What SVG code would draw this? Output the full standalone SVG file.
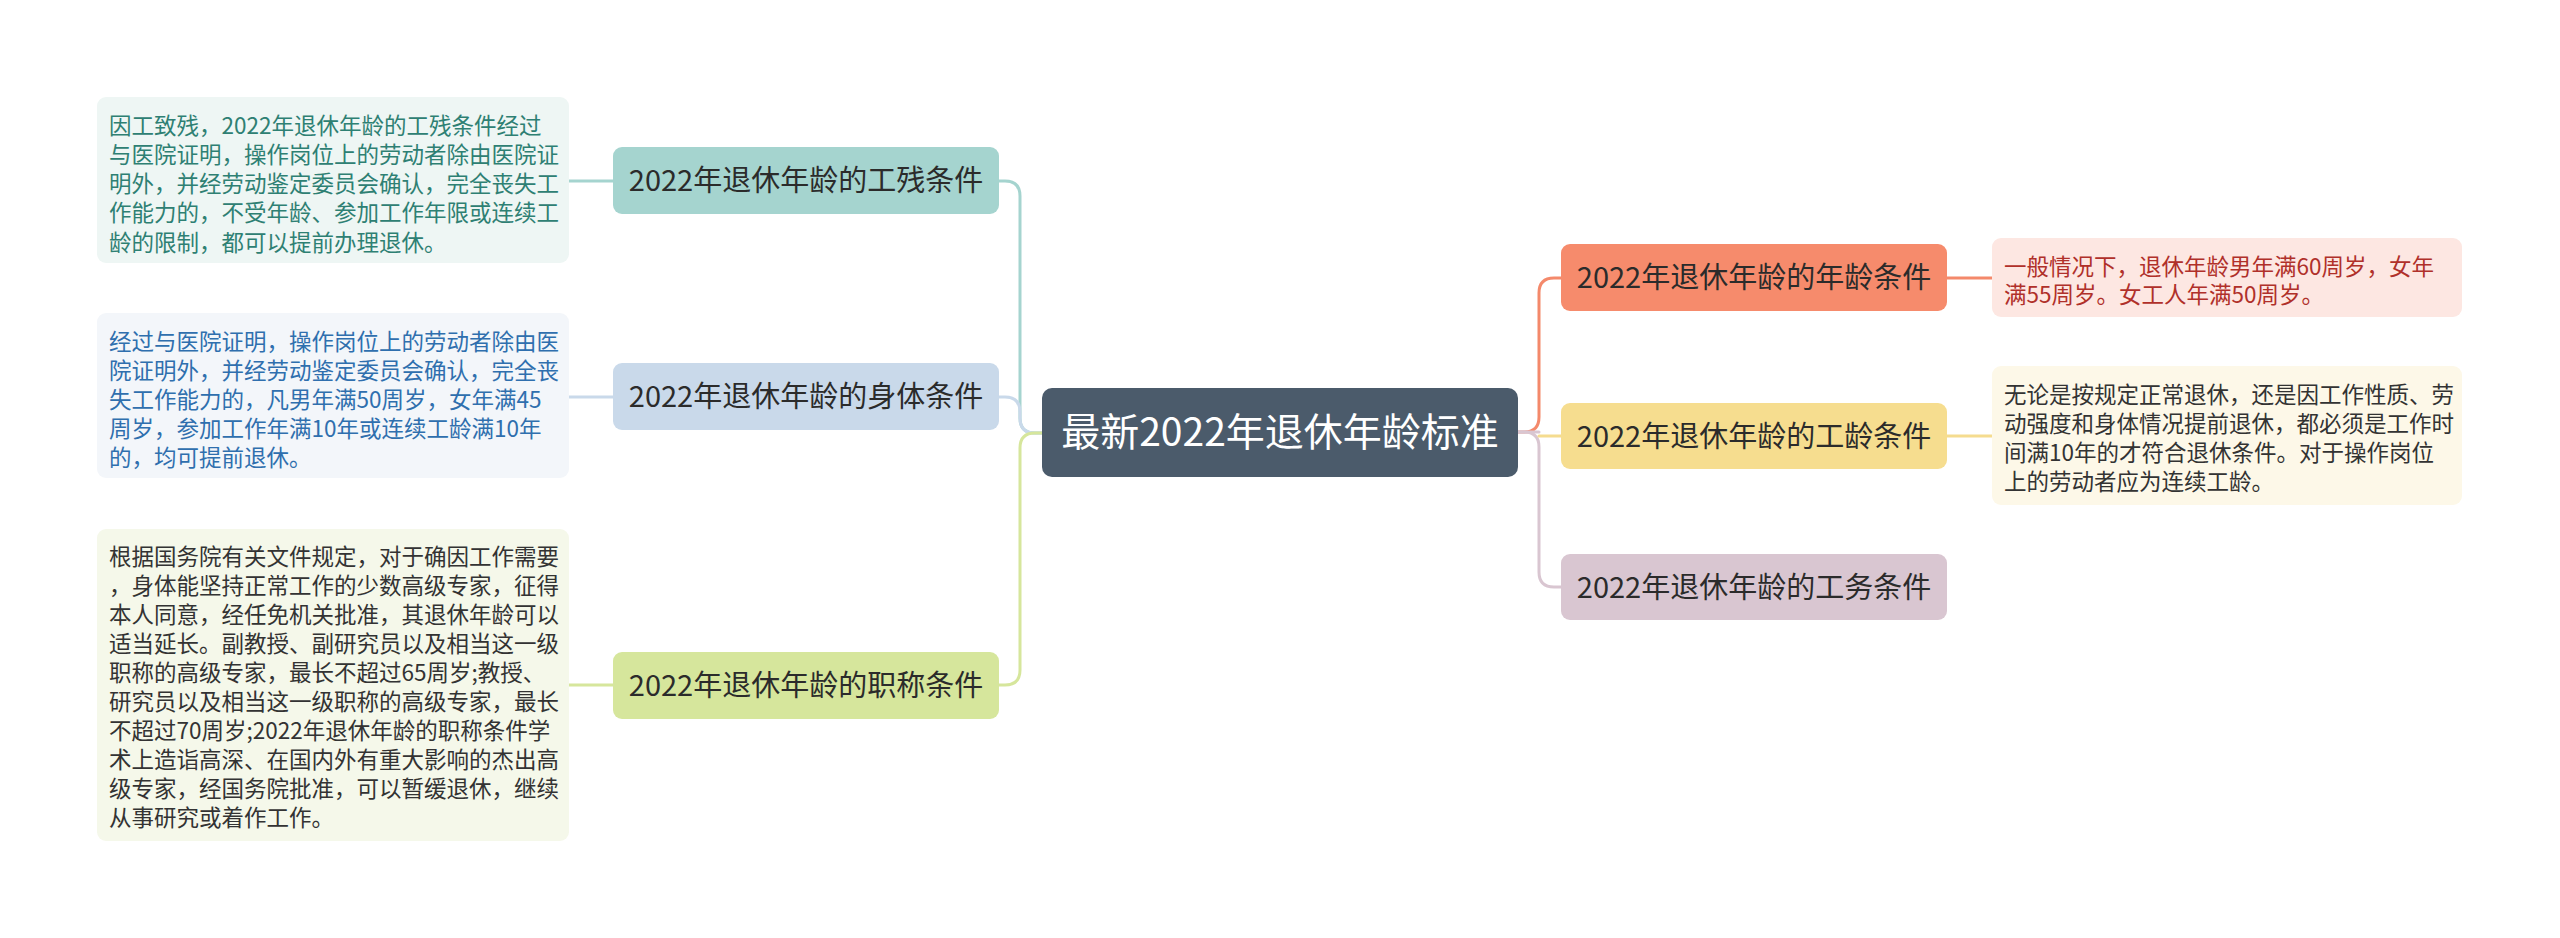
<svg xmlns="http://www.w3.org/2000/svg" width="2560" height="938" viewBox="0 0 2560 938">
<style>
text{font-family:"Noto Sans CJK SC","Noto Sans",sans-serif;}
.node{font-size:29px;fill:#2b2b2b;text-anchor:middle;}
.root{font-size:39px;fill:#ffffff;text-anchor:middle;}
.leaf{font-size:22.5px;}
.c{fill:none;stroke-width:3;stroke-linecap:round;}
</style>
<rect width="2560" height="938" fill="#ffffff"/>
<g id="connectors">
  <path class="c" stroke="#a5d4cf" d="M1042,433 H1035 Q1020,433 1020,418 V196 Q1020,181 1005,181 H999"/>
  <path class="c" stroke="#c9d9ea" d="M1042,433 H1035 Q1020,433 1020,418 V412 Q1020,397 1005,397 H999"/>
  <path class="c" stroke="#d6e69c" d="M1042,433 H1035 Q1020,433 1020,448 V670 Q1020,685 1005,685 H999"/>
  <path class="c" stroke="#f4896b" d="M1518,432 H1524 Q1539,432 1539,417 V293 Q1539,278 1554,278 H1561"/>
  <path class="c" stroke="#d9c6d1" d="M1518,432 H1524 Q1539,432 1539,447 V572 Q1539,587 1554,587 H1561"/>
  <path class="c" stroke="#d9c6d1" d="M1518,432 H1539"/>
  <path class="c" stroke="#f5dc8f" d="M1539,436 H1561"/>
  <path class="c" stroke="#a5d4cf" d="M569,181 H613"/>
  <path class="c" stroke="#c9d9ea" d="M569,397 H613"/>
  <path class="c" stroke="#d6e69c" d="M569,685 H613"/>
  <path class="c" stroke="#f4896b" d="M1947,278 H1992"/>
  <path class="c" stroke="#f5dc8f" d="M1947,436 H1992"/>
</g>
<g id="root">
  <rect x="1042" y="388" width="476" height="89" rx="10" fill="#4b5b6b"/>
  <text class="root" x="1280" y="446">最新2022年退休年龄标准</text>
</g>
<g id="n-gongcan">
  <rect x="613" y="147" width="386" height="67" rx="9" fill="#a5d4cf"/>
  <text class="node" x="806" y="191">2022年退休年龄的工残条件</text>
</g>
<g id="n-shenti">
  <rect x="613" y="363" width="386" height="67" rx="9" fill="#c9d9ea"/>
  <text class="node" x="806" y="407">2022年退休年龄的身体条件</text>
</g>
<g id="n-zhicheng">
  <rect x="613" y="652" width="386" height="67" rx="9" fill="#d6e69c"/>
  <text class="node" x="806" y="696">2022年退休年龄的职称条件</text>
</g>
<g id="n-nianling">
  <rect x="1561" y="244" width="386" height="67" rx="9" fill="#f68b6c"/>
  <text class="node" x="1754" y="288">2022年退休年龄的年龄条件</text>
</g>
<g id="n-gongling">
  <rect x="1561" y="403" width="386" height="66" rx="9" fill="#f6dd8f"/>
  <text class="node" x="1754" y="446.5">2022年退休年龄的工龄条件</text>
</g>
<g id="n-gongwu">
  <rect x="1561" y="554" width="386" height="66" rx="9" fill="#d9c6d1"/>
  <text class="node" x="1754" y="597.5">2022年退休年龄的工务条件</text>
</g>
<g id="leaf-gongcan">
  <rect x="97" y="97" width="472" height="166" rx="9" fill="#eef6f4"/>
  <text class="leaf" fill="#2e8073">
    <tspan x="109" y="133.5">因工致残，2022年退休年龄的工残条件经过</tspan>
    <tspan x="109" y="162.8">与医院证明，操作岗位上的劳动者除由医院证</tspan>
    <tspan x="109" y="192">明外，并经劳动鉴定委员会确认，完全丧失工</tspan>
    <tspan x="109" y="221.3">作能力的，不受年龄、参加工作年限或连续工</tspan>
    <tspan x="109" y="250.5">龄的限制，都可以提前办理退休。</tspan>
  </text>
</g>
<g id="leaf-shenti">
  <rect x="97" y="313" width="472" height="165" rx="9" fill="#f3f6fa"/>
  <text class="leaf" fill="#2f6fae">
    <tspan x="109" y="349.5">经过与医院证明，操作岗位上的劳动者除由医</tspan>
    <tspan x="109" y="378.5">院证明外，并经劳动鉴定委员会确认，完全丧</tspan>
    <tspan x="109" y="407.5">失工作能力的，凡男年满50周岁，女年满45</tspan>
    <tspan x="109" y="436.5">周岁，参加工作年满10年或连续工龄满10年</tspan>
    <tspan x="109" y="465.5">的，均可提前退休。</tspan>
  </text>
</g>
<g id="leaf-zhicheng">
  <rect x="97" y="529" width="472" height="312" rx="9" fill="#f5f8ea"/>
  <text class="leaf" fill="#333333">
    <tspan x="109" y="564.5">根据国务院有关文件规定，对于确因工作需要</tspan>
    <tspan x="109" y="593.5">，身体能坚持正常工作的少数高级专家，征得</tspan>
    <tspan x="109" y="622.5">本人同意，经任免机关批准，其退休年龄可以</tspan>
    <tspan x="109" y="651.5">适当延长。副教授、副研究员以及相当这一级</tspan>
    <tspan x="109" y="680.5">职称的高级专家，最长不超过65周岁;教授、</tspan>
    <tspan x="109" y="709.5">研究员以及相当这一级职称的高级专家，最长</tspan>
    <tspan x="109" y="738.5">不超过70周岁;2022年退休年龄的职称条件学</tspan>
    <tspan x="109" y="767.5">术上造诣高深、在国内外有重大影响的杰出高</tspan>
    <tspan x="109" y="796.5">级专家，经国务院批准，可以暂缓退休，继续</tspan>
    <tspan x="109" y="825.5">从事研究或着作工作。</tspan>
  </text>
</g>
<g id="leaf-nianling">
  <rect x="1992" y="238" width="470" height="79" rx="9" fill="#fde7e2"/>
  <text class="leaf" fill="#b0302a">
    <tspan x="2004" y="274.5">一般情况下，退休年龄男年满60周岁，女年</tspan>
    <tspan x="2004" y="303">满55周岁。女工人年满50周岁。</tspan>
  </text>
</g>
<g id="leaf-gongling">
  <rect x="1992" y="366" width="470" height="139" rx="9" fill="#fdf8e8"/>
  <text class="leaf" fill="#333333">
    <tspan x="2004" y="402.5">无论是按规定正常退休，还是因工作性质、劳</tspan>
    <tspan x="2004" y="431.5">动强度和身体情况提前退休，都必须是工作时</tspan>
    <tspan x="2004" y="460.5">间满10年的才符合退休条件。对于操作岗位</tspan>
    <tspan x="2004" y="489.5">上的劳动者应为连续工龄。</tspan>
  </text>
</g>
</svg>
